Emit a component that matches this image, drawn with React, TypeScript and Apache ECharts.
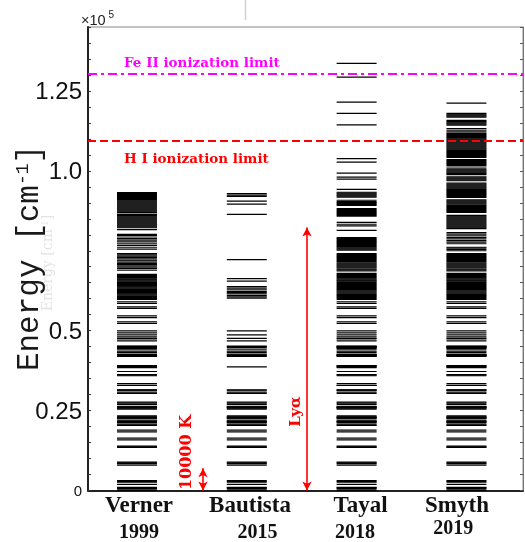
import React, { useEffect, useRef } from 'react';
import * as echarts from 'echarts';

// ---- data (energies in 10^3 cm^-1) ----
const categories = ['Verner', 'Bautista', 'Tayal', 'Smyth'];
const years = ['1999', '2015', '2018', '2019'];
const columnX = [1, 2, 3, 4];

const lowLevels = [
  0, 0.385, 0.668, 0.863, 0.977, 1.873, 2.43, 2.838, 3.117,
  7.955, 8.392, 8.68, 8.847,
  13.474, 13.673, 13.905,
  15.845, 16.369,
  18.361, 18.887,
  20.34, 20.517, 20.806, 21.252, 21.43, 21.582, 21.712, 21.812, 22.41, 22.637, 22.81, 22.939, 23.031, 23.318,
  25.429, 25.788, 25.805, 25.982, 26.055, 26.17, 26.353, 26.933, 27.315, 27.62,
  30.389, 30.764, 31.364, 31.388, 31.483, 32.876, 32.909, 33.467,
  35.9, 36.126, 36.253, 37.227, 38.459, 38.66, 38.859, 39.013, 39.109,
  41.968, 42.115, 42.237, 42.335, 42.401, 42.44, 42.658, 43.239, 43.621, 44.233, 44.447, 44.754, 44.785, 44.915, 45.044, 45.08, 45.206,
  46.8, 47.39, 47.56, 48.05, 48.7, 49.3, 49.95,
  52.25, 52.75, 54.1, 54.6,
  56.95, 57.45, 58.5, 59.0,
];

const vernerUpper = [
  59.8, 60.1, 60.4, 60.65, 60.9, 61.2, 61.5, 61.75, 62.0, 62.3, 62.6, 62.85, 63.1, 63.4, 63.7, 63.95, 64.2, 64.5,
  64.8, 65.05, 65.3, 65.6, 65.9, 66.15, 66.4, 66.7, 67.0, 67.3, 67.6,
  68.9, 69.4, 69.9, 70.3, 70.7, 71.0, 71.4, 71.8, 72.1, 72.5, 72.9, 73.3, 73.7, 74.1,
  75.5, 76.1, 76.7, 77.2, 77.75, 78.3, 78.8, 79.3, 79.8, 80.1,
  81.6,
  82.2, 82.5, 82.8, 83.1, 83.4, 83.7, 84.0, 84.3, 84.6, 84.9, 85.2, 85.5, 85.8, 86.1, 86.4, 86.95, 87.2, 87.5,
  87.8, 88.1, 88.4, 88.7, 89.0, 89.3, 89.6, 89.9, 90.2, 90.5, 90.8, 91.1, 91.4, 91.7, 92.0, 92.3, 92.6, 92.9, 93.2,
];

const bautistaLevels = [
  0, 0.385, 0.668, 0.863, 0.977, 1.873, 2.43, 2.838, 3.117,
  7.955, 8.392, 8.68, 8.847,
  13.474, 13.673, 13.905,
  15.845, 16.369,
  18.361, 18.887,
  20.34, 20.517, 20.806, 21.252, 21.43, 21.582, 21.712, 21.812, 22.41, 22.637, 22.81, 22.939, 23.031, 23.318,
  25.429, 25.788, 25.805, 25.982, 26.055, 26.17, 26.353, 26.933, 27.315, 27.62,
  30.389, 30.764, 31.364, 31.483,
  38.7,
  41.968, 42.237, 42.401, 42.658, 43.239, 43.621, 44.233, 44.754, 45.044, 45.206,
  46.8, 47.56, 48.7, 49.95,
  60.2, 60.6, 61.0, 61.5, 61.9, 62.3, 62.8, 63.3, 63.8,
  65.5, 66.3,
  72.2,
  86.4,
  89.6, 90.5,
  92.0, 92.4, 92.9,
];

const tayalSmythMid = [
  59.8, 60.1, 60.4, 60.7, 61.0, 61.3, 61.55, 61.8, 62.1, 62.4, 62.7, 62.95, 63.2, 63.5, 63.8, 64.1, 64.4, 64.7,
  65.0, 65.3, 65.55, 65.8, 66.1, 66.4, 66.7, 67.0, 67.3, 67.6, 67.9,
  68.7, 69.0, 69.3, 69.6, 69.9, 70.2, 70.5, 70.8, 71.1, 71.4, 71.7, 72.0, 72.3, 72.6, 72.9, 73.2, 73.5, 73.8, 74.1,
];

const tayalUpper = [
  75.2, 75.5, 75.8, 76.1, 76.4, 76.7, 77.0, 77.3, 77.6, 77.9, 78.2, 78.5, 78.8, 79.1,
  81.4,
  82.8, 83.3, 83.9,
  85.8, 86.1, 86.4, 86.7, 87.0, 87.3, 87.6, 87.9, 88.2,
  89.2, 89.5, 89.8, 90.1, 90.4, 90.8,
  91.8, 92.1, 92.4, 92.7, 93.0, 93.3,
  94.2,
  97.44, 98.06, 99.3,
  102.7, 103.8,
  114.4, 118.0, 121.5, 129.3, 133.6,
];

const smythUpper = [
  75.0, 75.4, 75.8, 76.1, 77.2, 77.7, 78.2, 78.7, 79.2, 79.7, 80.2, 80.7,
  81.9, 82.2, 82.5, 82.8, 83.1, 83.4, 83.7, 84.0, 84.3, 84.6, 84.9, 85.2, 85.5, 85.8, 86.1,
  87.0, 87.3, 87.6, 87.9, 88.2, 88.5, 88.8, 89.1, 89.4, 89.7, 90.0, 90.3, 90.6, 90.9,
  91.7, 92.0, 92.3, 92.6, 92.9, 93.2, 93.5, 93.8, 94.1, 94.4, 94.7, 95.0, 95.3, 95.6, 95.9, 96.2,
  96.9, 97.2, 97.5, 97.8, 98.1, 98.8, 99.1, 99.4, 99.7, 100.0, 100.3, 100.6,
  101.2, 101.7, 102.0, 102.3, 102.6, 102.9, 103.2, 103.5,
  104.2, 104.5, 104.8, 105.1, 105.4, 105.7, 106.0, 106.3, 106.6, 106.9, 107.2, 107.5, 107.8, 108.1, 108.4,
  108.7, 109.0, 109.3, 109.6, 109.9, 110.2, 110.5, 110.8, 111.1, 111.4, 111.7,
  112.2, 112.7, 113.2,
  114.3, 114.6, 114.9, 115.2, 115.5, 115.8,
  116.8, 117.1, 117.4, 117.7, 118.0,
  121.2,
];

const feIILimit = 130.3;
const hILimit = 109.3;
const tempArrowTop = 6.95; // 10000 K
const lyAlphaTop = 82.26;
const tempArrowX = 1.601;
const lyAlphaX = 2.548;

const yTickValues = [0, 25, 50, 100, 125];
const yTickLabels = ['0', '0.25', '0.5', '1.0', '1.25'];

const HALF = 0.182;

const levelSeries = (name: string, x: number, levels: number[]) => ({
  type: 'custom',
  name,
  silent: true,
  encode: { x: 0, y: 1 },
  data: levels.map((e) => [x, e]),
  renderItem: (params: any, api: any) => {
    const xv = api.value(0);
    const yv = api.value(1);
    const a = api.coord([xv - HALF, yv]);
    const b = api.coord([xv + HALF, yv]);
    return {
      type: 'line',
      shape: { x1: a[0], y1: a[1], x2: b[0], y2: b[1] },
      style: { stroke: '#000', lineWidth: 1.2 },
    };
  },
});

export default function App() {
  const ref = useRef<HTMLDivElement>(null);
  useEffect(() => {
    if (!ref.current) return;
    const chart = echarts.init(ref.current, null, { renderer: 'svg' });
    const levelSets = [
      [...lowLevels, ...vernerUpper],
      bautistaLevels,
      [...lowLevels, ...tayalSmythMid, ...tayalUpper],
      [...lowLevels, ...tayalSmythMid, ...smythUpper],
    ];
    const catLabelPos = [
      { nx: 139, ny: 504, yx: 139, yy: 531 },
      { nx: 250, ny: 504, yx: 257.5, yy: 531 },
      { nx: 360.5, ny: 504, yx: 355, yy: 531 },
      { nx: 457, ny: 504, yx: 453.3, yy: 527 },
    ];
    const catTexts: any[] = [];
    categories.forEach((c, i) => {
      const p = catLabelPos[i];
      catTexts.push({
        type: 'text', x: p.nx, y: p.ny,
        style: { text: c, fontFamily: 'Liberation Serif', fontWeight: 'bold', fontSize: 23, fill: '#111', align: 'center', verticalAlign: 'middle' },
      });
      catTexts.push({
        type: 'text', x: p.yx, y: p.yy,
        style: { text: years[i], fontFamily: 'Liberation Serif', fontWeight: 'bold', fontSize: 20, fill: '#111', align: 'center', verticalAlign: 'middle' },
      });
    });

    chart.setOption({
      animation: false,
      grid: {
        left: 88, right: 2, top: 27, bottom: 51.5, containLabel: false, outerBoundsMode: 'none',
        show: true, borderColor: '#888', borderWidth: 1,
      },
      xAxis: {
        type: 'value', min: 0.554, max: 4.515,
        axisLine: { show: true, onZero: false, lineStyle: { color: '#222', width: 2 } },
        axisTick: { show: false }, axisLabel: { show: false }, splitLine: { show: false },
      },
      yAxis: [
        {
          type: 'value', min: 0, max: 145, interval: 5, position: 'left',
          axisLine: { show: true, lineStyle: { color: '#222', width: 2 } },
          axisTick: { show: true, inside: true, length: 3, lineStyle: { color: '#333' } },
          splitLine: { show: false },
          axisLabel: {
            margin: 6,
            fontFamily: 'Liberation Sans', fontSize: 24, color: '#111',
            formatter: (v: number) => {
              const idx = yTickValues.indexOf(Math.round(v));
              if (idx < 0 || Math.abs(v - yTickValues[idx]) > 1e-6) return '';
              return v === 0 ? '{z|' + yTickLabels[idx] + '}' : yTickLabels[idx];
            },
            rich: { z: { fontFamily: 'Liberation Sans', fontSize: 15, color: '#111' } },
          },
        },
        {
          type: 'value', min: 0, max: 145, interval: 5, position: 'right',
          axisLine: { show: true, lineStyle: { color: '#777', width: 1 } },
          axisTick: { show: true, inside: true, length: 3, lineStyle: { color: '#555' } },
          axisLabel: { show: false }, splitLine: { show: false },
        },
      ],
      series: [
        ...categories.map((c, i) => levelSeries(c, columnX[i], levelSets[i])),
        {
          type: 'line', data: [], silent: true,
          markLine: {
            silent: true, symbol: 'none', label: { show: false },
            data: [
              { yAxis: feIILimit, lineStyle: { color: '#ff00ff', width: 2, type: [9, 4, 3, 4] } },
              { yAxis: hILimit, lineStyle: { color: '#ff0000', width: 2, type: [8, 4] } },
            ],
          },
        },
        {
          type: 'line', data: [], silent: true,
          markLine: {
            silent: true, symbol: ['arrow', 'arrow'], symbolSize: [7, 9], label: { show: false },
            lineStyle: { color: '#ff0000', width: 1.6, type: 'solid' },
            data: [
              [{ coord: [tempArrowX, 0] }, { coord: [tempArrowX, tempArrowTop] }],
              [{ coord: [lyAlphaX, 0] }, { coord: [lyAlphaX, lyAlphaTop] }],
            ],
          },
        },
      ],
      graphic: [
        { type: 'line', shape: { x1: 245.5, y1: 0, x2: 245.5, y2: 20 }, style: { stroke: '#d0d0d0', lineWidth: 1.5 } },
        { type: 'text', x: 81, y: 19.5, style: { text: '×10', fontFamily: 'Liberation Sans', fontSize: 14.5, fill: '#222', verticalAlign: 'middle' } },
        { type: 'text', x: 108.5, y: 14.5, style: { text: '5', fontFamily: 'Liberation Sans', fontSize: 10, fill: '#222', verticalAlign: 'middle' } },
        {
          type: 'text', x: 47, y: 263, rotation: Math.PI / 2,
          style: {
            text: 'Energy [cm{s|-1}]', fontFamily: 'DejaVu Serif', fontSize: 14, fill: '#e4e4e4', align: 'center', verticalAlign: 'middle',
            rich: { s: { fontFamily: 'DejaVu Serif', fontSize: 9, fill: '#e4e4e4', verticalAlign: 'top' } },
          },
        },
        {
          type: 'text', x: 29, y: 258, rotation: Math.PI / 2,
          style: {
            text: '{a|Energy [cm}{s|-1}{a|]}', align: 'center', verticalAlign: 'middle',
            rich: {
              a: { fontFamily: 'Liberation Mono', fontSize: 31, fill: '#1a1a1a' },
              s: { fontFamily: 'Liberation Mono', fontSize: 18, fill: '#1a1a1a', verticalAlign: 'top' },
            },
          },
        },
        { type: 'text', x: 124, y: 62, style: { text: 'Fe II ionization limit', fontFamily: 'DejaVu Serif', fontWeight: 'bold', fontSize: 13.5, fill: '#ff00ff', verticalAlign: 'middle' } },
        { type: 'text', x: 124, y: 157.5, style: { text: 'H I ionization limit', fontFamily: 'DejaVu Serif', fontWeight: 'bold', fontSize: 13.5, fill: '#ff0000', verticalAlign: 'middle' } },
        { type: 'text', x: 185, y: 452.5, rotation: Math.PI / 2, style: { text: '10000 K', fontFamily: 'DejaVu Serif', fontWeight: 'bold', fontSize: 16, fill: '#ff0000', align: 'center', verticalAlign: 'middle' } },
        { type: 'text', x: 294.5, y: 411.7, rotation: Math.PI / 2, style: { text: 'Lyα', fontFamily: 'DejaVu Serif', fontWeight: 'bold', fontSize: 15, fill: '#ff0000', align: 'center', verticalAlign: 'middle' } },
        ...catTexts,
      ],
    });
    return () => chart.dispose();
  }, []);
  return <div ref={ref} style={{ position: 'fixed', left: 0, top: 0, width: 525, height: 542 }} />;
}
